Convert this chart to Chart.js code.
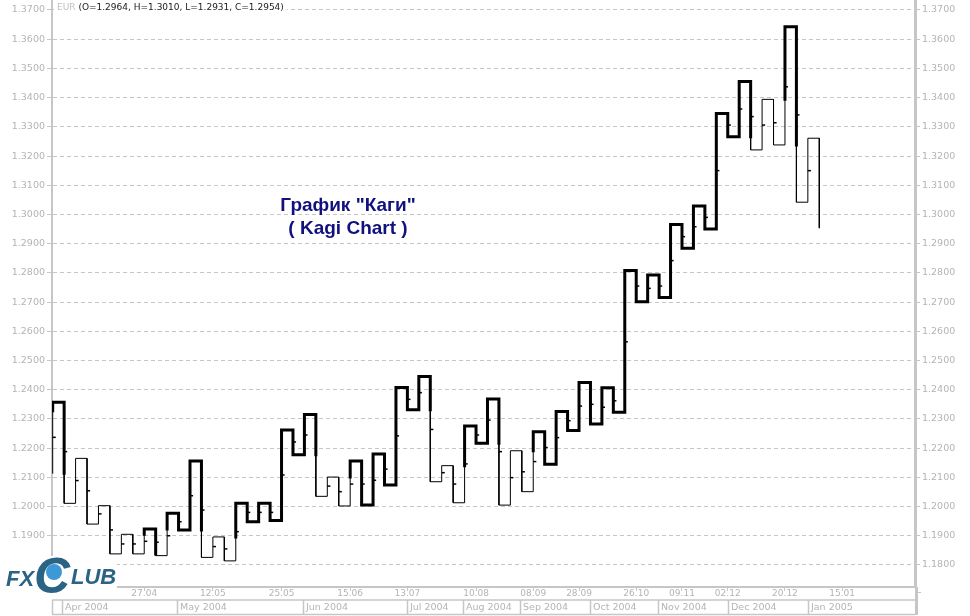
<!DOCTYPE html>
<html><head><meta charset="utf-8">
<script src="https://cdn.jsdelivr.net/npm/chart.js@4.4.0/dist/chart.umd.min.js"></script>
<style>html,body{margin:0;padding:0;background:#fff;overflow:hidden}#wrap{position:relative;width:970px;height:616px}</style>
</head><body><div id="wrap"><canvas id="c" width="970" height="616"></canvas></div>
<script>
// ---------------- data ----------------
const symbol = 'EUR';
const headerOHLC = '(O=1.2964, H=1.3010, L=1.2931, C=1.2954)';
const titleLines = ['График "Каги"', '( Kagi Chart )'];

// Kagi chart: starting price, then the price level each column's vertical line reaches
const kagiStart = 1.2114;
const initialShoulder = 1.2328;
const kagiLevels = [
  1.2357, 1.2011, 1.2165, 1.1940, 1.2003, 1.1838, 1.1905, 1.1838, 1.1923, 1.1832,
  1.1977, 1.1920, 1.2156, 1.1826, 1.1896, 1.1814, 1.2011, 1.1948, 1.2011, 1.1952,
  1.2262, 1.2177, 1.2315, 1.2035, 1.2101, 1.2002, 1.2156, 1.2005, 1.2180, 1.2074,
  1.2408, 1.2331, 1.2445, 1.2085, 1.2140, 1.2013, 1.2276, 1.2217, 1.2368, 1.2005,
  1.2191, 1.2051, 1.2256, 1.2145, 1.2325, 1.2260, 1.2425, 1.2283, 1.2407, 1.2323,
  1.2808, 1.2701, 1.2793, 1.2716, 1.2966, 1.2884, 1.3029, 1.2950, 1.3346, 1.3266,
  1.3455, 1.3221, 1.3394, 1.3238, 1.3643, 1.3042, 1.3261, 1.2954
];
// small close marks on each column (null = none)
const kagiMarks = [
  1.2237, 1.2188, 1.2089, 1.2054, 1.1975, 1.1920, 1.1872, 1.1872, 1.1881, 1.1878,
  1.1900, 1.1948, 1.2037, 1.1988, 1.1863, 1.1855, 1.1914, 1.1980, 1.1980, 1.1980,
  1.2108, 1.2221, 1.2245, null,   1.2070, 1.2051, 1.2077, 1.2077, 1.2090, 1.2128,
  1.2242, 1.2367, 1.2390, 1.2264, 1.2116, 1.2077, 1.2146, 1.2245, 1.2296, 1.2188,
  1.2099, 1.2119, 1.2154, 1.2202, 1.2236, 1.2294, 1.2344, 1.2350, 1.2340, 1.2362,
  1.2564, 1.2755, 1.2747, 1.2755, 1.2842, 1.2924, 1.2958, 1.2990, 1.3150, 1.3306,
  1.3361, 1.3335, 1.3306, 1.3314, 1.3437, 1.3341, 1.3150, null
];

const yTickValues = [1.18, 1.19, 1.20, 1.21, 1.22, 1.23, 1.24, 1.25, 1.26, 1.27,
                     1.28, 1.29, 1.30, 1.31, 1.32, 1.33, 1.34, 1.35, 1.36, 1.37];
const yMin = 1.17246, yMax = 1.37342;

const dateTickCols = [8, 14, 20, 26, 31, 37, 42, 46, 51, 55, 59, 64, 69];
const dateTickLabels = ['27.04', '12.05', '25.05', '15.06', '13.07', '10.08', '08.09',
                        '28.09', '26.10', '09.11', '02.12', '20.12', '15.01'];
const monthStartCols = [0.81, 10.86, 21.88, 30.94, 35.89, 40.84, 46.96, 52.93, 58.99, 66.04];
const monthLabels = ['Apr 2004', 'May 2004', 'Jun 2004', 'Jul 2004', 'Aug 2004',
                     'Sep 2004', 'Oct 2004', 'Nov 2004', 'Dec 2004', 'Jan 2005'];
const xMin = -0.0612, xMax = 75.365;

// ---------------- build Kagi path ----------------
const THICK = 3, THIN = 1;
const kagiPoints = [{x: 0, y: kagiStart}];
const kagiWidths = [];
(function build() {
  let thick = false, lastHigh = initialShoulder, lastLow = kagiStart, prev = kagiStart;
  const n = kagiLevels.length;
  for (let i = 0; i < n; i++) {
    const v = kagiLevels[i];
    if (v > prev) {
      if (!thick && v > lastHigh) {
        if (lastHigh > prev) { kagiPoints.push({x: i, y: lastHigh}); kagiWidths.push(THIN); }
        thick = true;
      }
      kagiPoints.push({x: i, y: v}); kagiWidths.push(thick ? THICK : THIN);
      lastHigh = v;
    } else {
      if (thick && v < lastLow) {
        if (lastLow < prev) { kagiPoints.push({x: i, y: lastLow}); kagiWidths.push(THICK); }
        thick = false;
      }
      kagiPoints.push({x: i, y: v}); kagiWidths.push(thick ? THICK : THIN);
      lastLow = v;
    }
    if (i < n - 1) { kagiPoints.push({x: i + 1, y: v}); kagiWidths.push(thick ? THICK : THIN); }
    prev = v;
  }
})();
const markPoints = [];
kagiMarks.forEach((v, i) => { if (v !== null) markPoints.push({x: i + 0.13, y: v}); });

// ---------------- styling ----------------
const GRAY = '#c6c6c6';
const TXT = '#b4b4b4';
const FONT = '"DejaVu Sans", Verdana, sans-serif';

function fixY(scale, w) {
  scale.width = w;
  scale.paddingTop = 0; scale.paddingBottom = 0;
}

const decor = {
  id: 'decor',
  afterDraw(chart) {
    const ctx = chart.ctx, xs = chart.scales.x, a = chart.chartArea;
    ctx.save();
    // month row
    const rowTop = 600, rowBot = 614.5;
    ctx.strokeStyle = GRAY;
    ctx.lineWidth = 1.5;
    ctx.beginPath();
    ctx.moveTo(a.left, rowTop); ctx.lineTo(a.right, rowTop);
    ctx.moveTo(a.left, rowBot); ctx.lineTo(a.right, rowBot);
    ctx.moveTo(a.left + 0.5, rowTop); ctx.lineTo(a.left + 0.5, rowBot);
    monthStartCols.forEach(c => {
      const x = Math.round(xs.getPixelForValue(c)) + 0.5;
      ctx.moveTo(x, rowTop); ctx.lineTo(x, rowBot);
    });
    ctx.stroke();
    // right border through the bottom rows
    ctx.lineWidth = 3;
    ctx.beginPath(); ctx.moveTo(a.right + 1.5, a.bottom); ctx.lineTo(a.right + 1.5, 615); ctx.stroke();
    ctx.lineWidth = 1;
    ctx.beginPath(); ctx.moveTo(a.right + 3, 592.5); ctx.lineTo(a.right + 6, 592.5); ctx.stroke();
    // month labels
    ctx.fillStyle = TXT;
    ctx.font = '9.5px ' + FONT;
    ctx.textBaseline = 'middle';
    ctx.textAlign = 'left';
    monthStartCols.forEach((c, i) => {
      const x = Math.round(xs.getPixelForValue(c)) + 3;
      ctx.fillText(monthLabels[i], x, 607.5);
    });
    // header (on a white strip that hides the top grid line behind it)
    ctx.textBaseline = 'top';
    ctx.font = '9px ' + FONT;
    const w = ctx.measureText(symbol + ' ').width;
    const wAll = w + ctx.measureText(headerOHLC).width;
    ctx.fillStyle = '#ffffff';
    ctx.fillRect(a.left + 2, 1, wAll + 6, 12);
    ctx.fillStyle = '#c0c0c0';
    ctx.fillText(symbol, 57, 3);
    ctx.fillStyle = '#1a1a1a';
    ctx.fillText(headerOHLC, 57 + w, 3);
    // title
    ctx.textAlign = 'center';
    ctx.textBaseline = 'alphabetic';
    ctx.fillStyle = '#10107e';
    ctx.font = 'bold 19px "Liberation Sans", Arial, sans-serif';
    ctx.fillText(titleLines[0], 348, 211);
    ctx.fillText(titleLines[1], 348, 234);
    // logo
    ctx.fillStyle = '#ffffff';
    ctx.fillRect(0, 556, 117, 37);
    ctx.fillRect(0, 546, 50, 10);
    ctx.textAlign = 'left';
    ctx.fillStyle = '#2a6384';
    ctx.font = 'italic bold 22px "Liberation Sans", Arial, sans-serif';
    ctx.fillText('FX', 6, 586);
    ctx.font = 'italic bold 50px "Liberation Sans", Arial, sans-serif';
    ctx.fillText('C', 34, 593);
    ctx.fillStyle = '#3d98d6';
    ctx.beginPath(); ctx.arc(54, 572, 8, 0, Math.PI * 2); ctx.fill();
    ctx.fillStyle = '#2a6384';
    ctx.font = 'italic bold 22px "Liberation Sans", Arial, sans-serif';
    ctx.fillText('LUB', 71, 584);
    ctx.restore();
  }
};

new Chart(document.getElementById('c'), {
  type: 'line',
  data: {
    datasets: [{
      data: kagiPoints,
      borderColor: '#000000',
      borderWidth: THIN,
      pointRadius: 0,
      tension: 0,
      borderJoinStyle: 'miter',
      borderCapStyle: 'square',
      segment: { borderWidth: ctx => kagiWidths[ctx.p0DataIndex] }
    }, {
      type: 'scatter',
      data: markPoints,
      showLine: false,
      pointStyle: 'line',
      pointRadius: 1.6,
      borderColor: '#000000',
      borderWidth: 1.5,
      backgroundColor: '#000000'
    }]
  },
  options: {
    responsive: false,
    animation: false,
    devicePixelRatio: 1,
    layout: { padding: 0, autoPadding: false },
    plugins: { legend: { display: false }, tooltip: { enabled: false }, title: { display: false } },
    scales: {
      x: {
        type: 'linear', position: 'bottom', min: xMin, max: xMax,
        afterBuildTicks: s => { s.ticks = dateTickCols.map(v => ({value: v})); },
        afterFit: s => { s.height = 29; s.paddingLeft = 0; s.paddingRight = 0; },
        ticks: {
          autoSkip: false, maxRotation: 0, minRotation: 0, padding: -3,
          color: TXT, font: { family: FONT, size: 9 },
          callback: (v, i) => dateTickLabels[i]
        },
        grid: { drawOnChartArea: false, drawTicks: true, tickLength: 4, tickColor: GRAY },
        border: { display: true, color: GRAY, width: 2 }
      },
      y: {
        type: 'linear', position: 'left', min: yMin, max: yMax,
        afterBuildTicks: s => { s.ticks = yTickValues.map(v => ({value: v})); },
        afterFit: s => fixY(s, 52),
        ticks: { color: TXT, padding: 2, font: { family: FONT, size: 9.5 }, callback: v => v.toFixed(4) },
        grid: { color: GRAY, lineWidth: 1, drawTicks: true, tickLength: 5,
                tickColor: GRAY, tickBorderDash: [] },
        border: { display: true, color: GRAY, width: 2, dash: [4, 3] }
      },
      y2: {
        type: 'linear', position: 'right', min: yMin, max: yMax,
        afterBuildTicks: s => { s.ticks = yTickValues.map(v => ({value: v})); },
        afterFit: s => fixY(s, 55),
        ticks: { color: TXT, padding: 2, font: { family: FONT, size: 9.5 }, callback: v => v.toFixed(4) },
        grid: { drawOnChartArea: false, drawTicks: true, tickLength: 5, tickColor: GRAY },
        border: { display: true, color: GRAY, width: 3 }
      }
    }
  },
  plugins: [decor]
});
</script></body></html>
